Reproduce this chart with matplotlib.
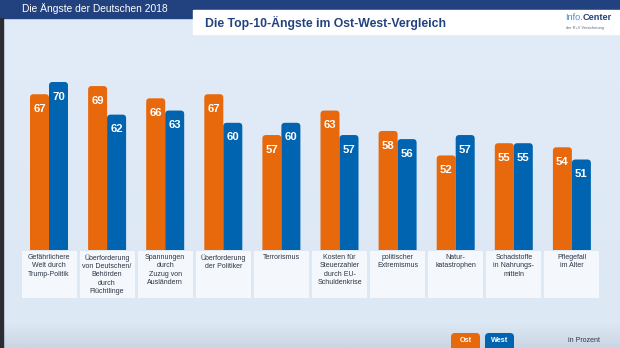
import numpy as np
import matplotlib
matplotlib.use("Agg")
import matplotlib.pyplot as plt
from matplotlib.patches import FancyBboxPatch, Rectangle

plt.rcParams['font.family'] = ['Liberation Sans', 'DejaVu Sans']

# --- data -------------------------------------------------------------
categories = [
    "Gefährlichere\nWelt durch\nTrump-Politik",
    "Überforderung\nvon Deutschen/\nBehörden\ndurch\nFlüchtlinge",
    "Spannungen\ndurch\nZuzug von\nAusländern",
    "Überforderung\nder Politiker",
    "Terrorismus",
    "Kosten für\nSteuerzahler\ndurch EU-\nSchuldenkrise",
    "politischer\nExtremismus",
    "Natur-\nkatastrophen",
    "Schadstoffe\nin Nahrungs-\nmitteln",
    "Pflegefall\nim Alter",
]
ost = [67, 69, 66, 67, 57, 63, 58, 52, 55, 54]
west = [70, 62, 63, 60, 60, 57, 56, 57, 55, 51]
series_names = ["Ost", "West"]

# --- styling ----------------------------------------------------------
W, H = 620, 348
C_OST = "#e8680c"
C_WEST = "#0064b0"
C_HEAD = "#22427f"
C_BOX = "#f4f7fc"
C_TXT = "#2c3543"

fig = plt.figure(figsize=(W / 100, H / 100), dpi=100)

# Background / decoration layer in pixel coordinates
bg = fig.add_axes([0, 0, 1, 1], zorder=0)
bg.set_xlim(0, W)
bg.set_ylim(H, 0)
bg.axis("off")

# soft vertical gradient of the panel
grad = np.linspace(0, 1, 200)
c_top = np.array([0xe2, 0xec, 0xf8]) / 255
c_mid = np.array([0xdd, 0xe8, 0xf5]) / 255
c_bot = np.array([0xcb, 0xd5, 0xe3]) / 255
img = np.zeros((200, 1, 3))
for i, g in enumerate(grad):
    if g < 0.93:
        img[i, 0] = c_top + (c_mid - c_top) * g / 0.93
    else:
        img[i, 0] = c_mid + (c_bot - c_mid) * (g - 0.93) / 0.07
bg.imshow(img, extent=[0, W, H, 0], aspect="auto", zorder=0)

# header band and section tab
bg.add_patch(Rectangle((0, 0), W, 10, color=C_HEAD, zorder=1))
bg.add_patch(Rectangle((0, 0), 193, 18, color=C_HEAD, zorder=1))
bg.add_patch(Rectangle((193, 10), W - 193, 24, color="white", zorder=1))
# dark left edge
bg.add_patch(Rectangle((0, 18), 3, H - 18, color="#2b2d33", zorder=1))

bg.text(22, 9, "Die Ängste der Deutschen 2018", color="white", fontsize=7.4,
        va="center", ha="left", zorder=2)
bg.text(205, 22.5, "Die Top-10-Ängste im Ost-West-Vergleich", color=C_HEAD,
        fontsize=8.8, fontweight="bold", va="center", ha="left", zorder=2)
t1 = bg.text(565, 18, "Info.", color="#4a8fd2", fontsize=6.6, va="center",
             ha="left", zorder=2)
fig.canvas.draw()
bb = t1.get_window_extent()
x_after = bb.x1 * W / (fig.get_figwidth() * fig.dpi)
bg.text(x_after, 18, "Center", color=C_HEAD, fontsize=6.6, fontweight="bold",
        va="center", ha="left", zorder=2)
bg.text(566, 27.5, "der R+V Versicherung", color="#5a6a80", fontsize=2.8,
        va="center", ha="left", zorder=2)

# --- bar chart axes ---------------------------------------------------
n = len(categories)
x = np.arange(n)
px_per_unit_x = 58.1
x0_px = 49.0
y_base_px, y_top_px = 250.0, 40.0
px_per_val = 4.08
v_base = 70 - (y_base_px - 82) / px_per_val
v_top = 70 + (82 - y_top_px) / px_per_val

ax = fig.add_axes([0, (H - y_base_px) / H, 1, (y_base_px - y_top_px) / H], zorder=2)
ax.set_xlim(-x0_px / px_per_unit_x, (W - x0_px) / px_per_unit_x)
ax.set_ylim(v_base, v_top)
ax.axis("off")
ax.patch.set_alpha(0)

bw = 19.0 / px_per_unit_x
# aspect between data units so that the rounded corners stay circular
aspect = (1 / px_per_val) / (1 / px_per_unit_x)
radius = 3.5 / px_per_unit_x
for vals, off, col in ((ost, -bw / 2, C_OST), (west, bw / 2, C_WEST)):
    bars = ax.bar(x + off, vals, width=bw, color=col, alpha=0)
    for b, v in zip(bars, vals):
        p = FancyBboxPatch((b.get_x(), 0), b.get_width(), v,
                           boxstyle=f"round,pad=0,rounding_size={radius}",
                           mutation_aspect=aspect, facecolor=col,
                           edgecolor="none", clip_on=True)
        ax.add_patch(p)
        ax.text(b.get_x() + b.get_width() / 2, v - 14.7 / px_per_val, f"{v}",
                color="white", fontsize=8.2, fontweight="bold",
                ha="center", va="center")

# --- category boxes -----------------------------------------------------
for i, label in enumerate(categories):
    cx = x0_px + px_per_unit_x * i
    bg.add_patch(Rectangle((cx - 27.5, 251), 55, 47, color=C_BOX, zorder=3,
                           linewidth=0))
    bg.text(cx, 254, label, color=C_TXT, fontsize=5.0, ha="center", va="top",
            linespacing=1.25, zorder=4)

# --- legend -------------------------------------------------------------
for name, col, x_left in ((series_names[0], C_OST, 451), (series_names[1], C_WEST, 485)):
    bg.add_patch(FancyBboxPatch((x_left, 333), 29, 20,
                                boxstyle="round,pad=0,rounding_size=4",
                                facecolor=col, edgecolor="none", zorder=3))
    bg.text(x_left + 14.5, 340.5, name, color="white", fontsize=5.2,
            fontweight="bold", ha="center", va="center", zorder=4)
bg.text(568, 340.5, "in Prozent", color=C_TXT, fontsize=5.0, ha="left",
        va="center", zorder=4)

fig.savefig("out.png", dpi=100)
